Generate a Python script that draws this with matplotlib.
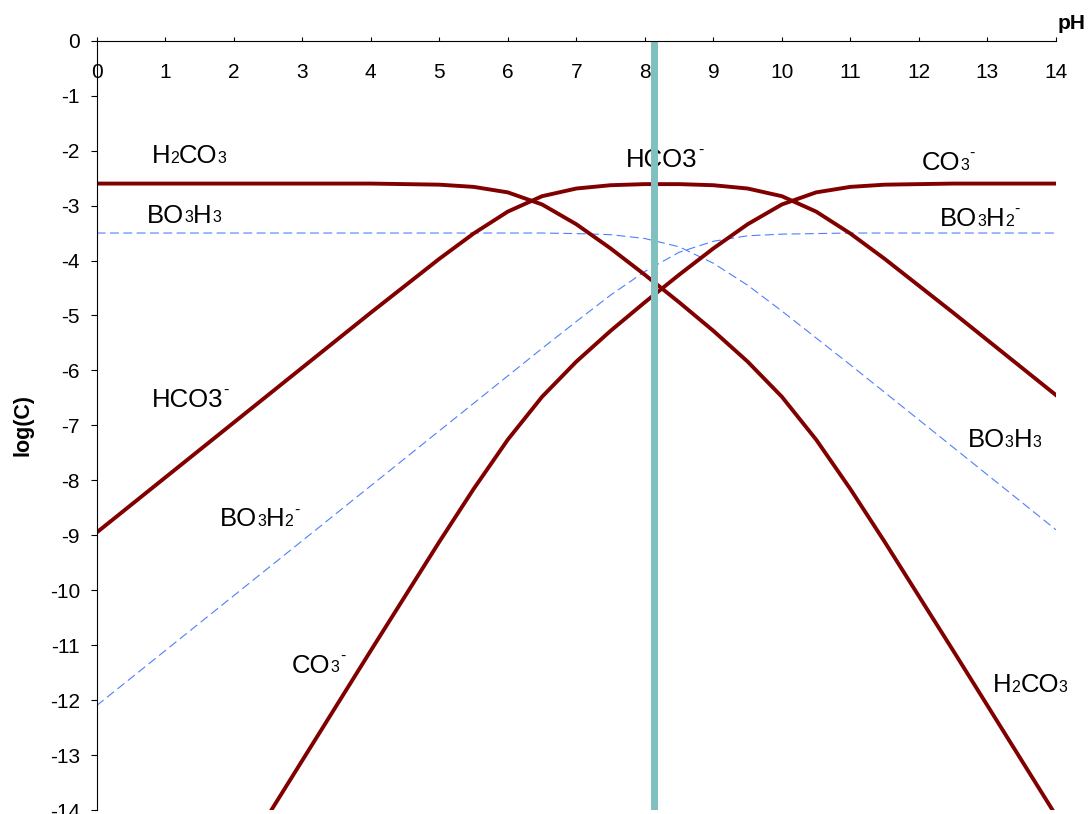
import matplotlib
matplotlib.use("Agg")
import matplotlib.pyplot as plt

plt.rcParams['font.family'] = ['Liberation Sans', 'DejaVu Sans']
plt.rcParams['axes.unicode_minus'] = False

# pH grid and log concentrations
ph = [0, 0.5, 1, 1.5, 2, 2.5, 3, 3.5, 4, 4.5, 5, 5.5, 6, 6.5, 7,
      7.5, 8, 8.5, 9, 9.5, 10, 10.5, 11, 11.5, 12, 12.5, 13, 13.5, 14]

h2co3 = [-2.60, -2.60, -2.60, -2.60, -2.60, -2.60, -2.60, -2.60, -2.60, -2.61,
         -2.62, -2.66, -2.76, -2.98, -3.34, -3.78, -4.26, -4.76, -5.28, -5.84,
         -6.48, -7.26, -8.16, -9.12, -10.11, -11.10, -12.10, -13.10, -14.10]
hco3 = [-8.95, -8.45, -7.95, -7.45, -6.95, -6.45, -5.95, -5.45, -4.95, -4.46,
        -3.97, -3.51, -3.11, -2.83, -2.69, -2.63, -2.61, -2.61, -2.63, -2.69,
        -2.83, -3.11, -3.51, -3.97, -4.46, -4.95, -5.45, -5.95, -6.45]
co3 = [-19.10, -18.10, -17.10, -16.10, -15.10, -14.10, -13.10, -12.10, -11.10, -10.11,
       -9.12, -8.16, -7.26, -6.48, -5.84, -5.28, -4.76, -4.26, -3.78, -3.34,
       -2.98, -2.76, -2.66, -2.62, -2.61, -2.60, -2.60, -2.60, -2.60]

bo3h3 = [-3.50, -3.50, -3.50, -3.50, -3.50, -3.50, -3.50, -3.50, -3.50, -3.50,
         -3.50, -3.50, -3.50, -3.50, -3.51, -3.53, -3.60, -3.75, -4.05, -4.45,
         -4.92, -5.41, -5.90, -6.40, -6.90, -7.40, -7.90, -8.40, -8.90]
bo3h2 = [-12.10, -11.60, -11.10, -10.60, -10.10, -9.60, -9.10, -8.60, -8.10, -7.60,
         -7.10, -6.60, -6.10, -5.60, -5.11, -4.63, -4.20, -3.85, -3.65, -3.55,
         -3.52, -3.51, -3.50, -3.50, -3.50, -3.50, -3.50, -3.50, -3.50]

ph_marker = 8.13

# label text pieces: n = normal, s = small digit, p = superscript charge
labels = [
    (0.80, -2.23, [('H', 'n'), ('2', 's'), ('CO', 'n'), ('3', 's')]),
    (0.74, -3.31, [('BO', 'n'), ('3', 's'), ('H', 'n'), ('3', 's')]),
    (7.72, -2.29, [('HCO3', 'n'), ('-', 'p')]),
    (12.04, -2.35, [('CO', 'n'), ('3', 's'), ('-', 'p')]),
    (12.31, -3.37, [('BO', 'n'), ('3', 's'), ('H', 'n'), ('2', 's'), ('-', 'p')]),
    (0.80, -6.66, [('HCO3', 'n'), ('-', 'p')]),
    (1.80, -8.84, [('BO', 'n'), ('3', 's'), ('H', 'n'), ('2', 's'), ('-', 'p')]),
    (2.85, -11.50, [('CO', 'n'), ('3', 's'), ('-', 'p')]),
    (12.71, -7.39, [('BO', 'n'), ('3', 's'), ('H', 'n'), ('3', 's')]),
    (13.08, -11.86, [('H', 'n'), ('2', 's'), ('CO', 'n'), ('3', 's')]),
]

fig = plt.figure(figsize=(10.91, 8.14), dpi=100)
ax = fig.add_axes([0.0886, 0.0049, 0.8793, 0.9451])

red = '#800000'
blue = '#4d7fff'

ax.plot(ph, bo3h3, color=blue, lw=0.8, dashes=(8, 4), zorder=2)
ax.plot(ph, bo3h2, color=blue, lw=0.8, dashes=(8, 4), zorder=2)
ax.plot(ph, h2co3, color=red, lw=2.8, zorder=3)
ax.plot(ph, hco3, color=red, lw=2.8, zorder=3)
ax.plot(ph, co3, color=red, lw=2.8, zorder=3)
ax.axvline(ph_marker, color='#80c0c0', lw=5, zorder=4)

ax.set_xlim(0, 14)
ax.set_ylim(-14, 0)
ax.set_xticks(range(0, 15))
ax.set_yticks(range(-14, 1))

ax.spines['top'].set_visible(False)
ax.spines['right'].set_visible(False)
ax.spines['bottom'].set_position(('data', 0))
for s in ('bottom', 'left'):
    ax.spines[s].set_linewidth(0.8)
    ax.spines[s].set_zorder(5)

ax.tick_params(axis='x', direction='in', length=3, pad=16, labelsize=15, width=0.8)
ax.tick_params(axis='y', direction='out', length=4.3, pad=7.7, labelsize=15, width=0.8)

ax.set_ylabel('log(C)', fontsize=15.5, fontweight='bold')
ax.yaxis.set_label_coords(-0.066, 0.5)
fig.text(0.9698, 0.9647, 'pH', fontsize=15, fontweight='bold', va='baseline', ha='left')

big = 18.5
small = 11.5


def chem(x, y, parts):
    first = ax.text(x, y, parts[0][0], fontsize=big, va='baseline', ha='left')
    prev = first
    for s, kind in parts[1:]:
        if kind == 'n':
            prev = ax.annotate(s, xy=(1, 0), xycoords=(prev, first),
                               va='bottom', ha='left', fontsize=big)
        elif kind == 's':
            # raise the small digit so it sits on the same baseline
            prev = ax.annotate(s, xy=(1, 0), xycoords=(prev, first),
                               xytext=(0, 1.6), textcoords='offset points',
                               va='bottom', ha='left', fontsize=small)
        else:
            prev = ax.annotate(s, xy=(1, 1), xycoords=(prev, first),
                               xytext=(0.5, -2), textcoords='offset points',
                               va='center', ha='left', fontsize=small)


for x, y, parts in labels:
    chem(x, y, parts)

fig.savefig('out.png', dpi=100, facecolor='white')
